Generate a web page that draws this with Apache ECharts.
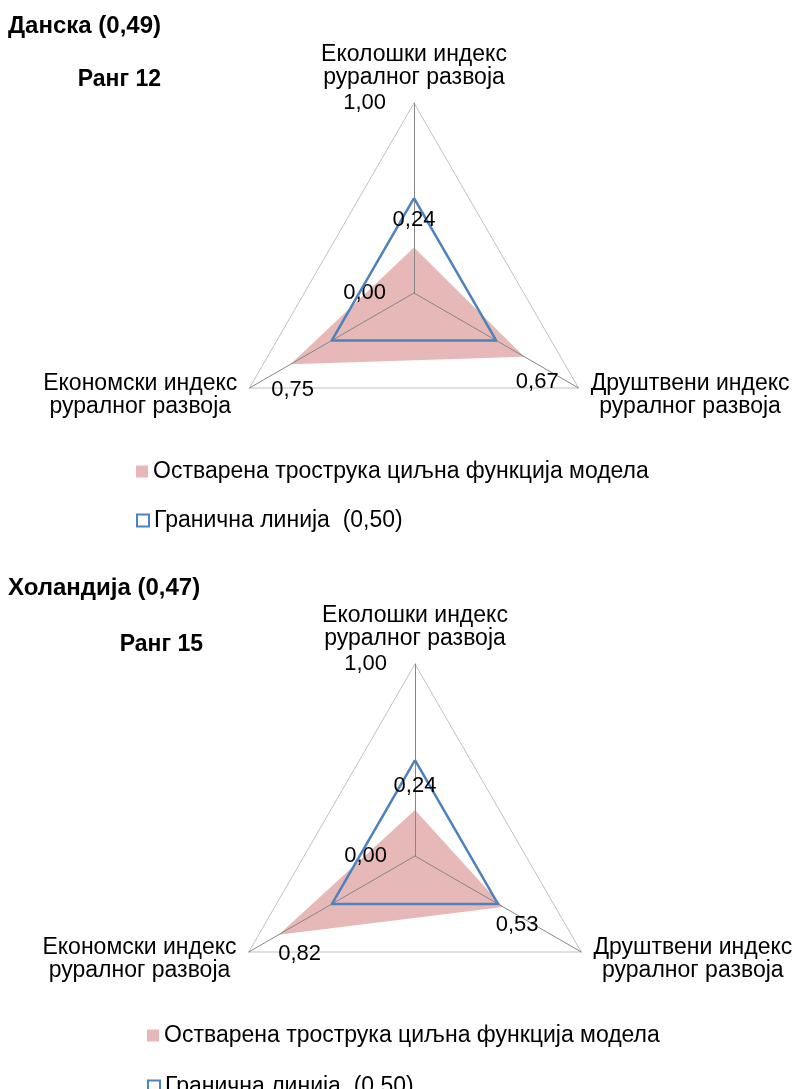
<!DOCTYPE html>
<html><head><meta charset="utf-8">
<script src="https://cdn.jsdelivr.net/npm/echarts@6/dist/echarts.min.js"></script>
<style>html,body{margin:0;padding:0;background:#fff}#c{width:800px;height:1089px}</style>
</head><body><div id="c"></div>
<script>
// Indicator order: top, left, right (ECharts places indicators counter-clockwise)
const indicatorNames = ['Еколошки индекс\nруралног развоја', 'Економски индекс\nруралног развоја', 'Друштвени индекс\nруралног развоја'];
const countryTitles = ['Данска (0,49)', 'Холандија (0,47)'];
const rankTitles = ['Ранг 12', 'Ранг 15'];
const seriesNames = ['Остварена трострука циљна функција модела', 'Гранична линија  (0,50)'];
const denmarkValues = [0.24, 0.75, 0.67];
const netherlandsValues = [0.24, 0.82, 0.53];
const boundaryValues = [0.50, 0.50, 0.50];
const axisMin = 0, axisMax = 1;

const FONT = 'Liberation Sans, Arial, sans-serif';
const RED = '#E6B9B8', BLUE = '#4F81BD';
const FS = 22, FS_TEXT = 23;
const fmt = v => Number(v).toFixed(2).replace('.', ',');

function makeRadar(center, radius) {
  return {
    z: 3,
    center: center, radius: radius, startAngle: 90, shape: 'polygon', splitNumber: 1,
    indicator: indicatorNames.map((n, i) => i === 0
      ? { name: n, min: axisMin, max: axisMax, axisLabel: { show: true } }
      : { name: n, min: axisMin, max: axisMax }),
    nameGap: 14,
    axisName: {
      formatter: v => v.split('\n').map(s => '{a|' + s + '}').join('\n'),
      rich: { a: { align: 'center', fontSize: FS_TEXT, lineHeight: 23, fontFamily: FONT, color: '#000' } }
    },
    axisLine: { lineStyle: { color: '#868686', width: 1 } },
    splitLine: { lineStyle: { color: '#c0c0c0', width: 1 } },
    splitArea: { show: false },
    axisTick: { show: false },
    axisLabel: { show: false, formatter: v => fmt(v), margin: 28, fontSize: FS, fontFamily: FONT, color: '#000' }
  };
}

function makeSeries(radarIndex, values, labelOffsets) {
  return [
    { type: 'radar', radarIndex: radarIndex, name: seriesNames[0], symbol: 'none', silent: true, z: 1,
      data: [{ value: values }], itemStyle: { color: RED },
      areaStyle: { color: RED, opacity: 1 }, lineStyle: { width: 0, opacity: 0 } },
    { type: 'radar', radarIndex: radarIndex, name: seriesNames[1], symbol: 'none', silent: true, z: 5,
      data: [{ value: boundaryValues }], itemStyle: { color: BLUE },
      lineStyle: { color: BLUE, width: 2.5 } },
    { type: 'radar', radarIndex: radarIndex, name: 'labels' + radarIndex, symbol: 'circle', symbolSize: 2, silent: true, z: 6,
      itemStyle: { color: 'rgba(0,0,0,0)' }, lineStyle: { width: 0, opacity: 0 },
      data: labelOffsets.map((off, i) => ({
        value: values,
        label: { show: true, position: 'inside', offset: off, fontSize: FS, fontFamily: FONT, color: '#000',
          formatter: p => p.dimensionIndex === i ? fmt(p.value) : '' }
      })) }
  ];
}

const legendItems = [
  { name: seriesNames[0], icon: 'rect', itemStyle: { color: RED, borderWidth: 0 } },
  { name: seriesNames[1], icon: 'rect', itemStyle: { color: '#fff', borderColor: BLUE, borderWidth: 2 } }
];
function makeLegend(left, top, idx) {
  return {
    left: left, top: top, padding: 0, orient: 'vertical', itemWidth: 12, itemHeight: 12, selectedMode: false,
    textStyle: { fontSize: FS_TEXT, fontFamily: FONT, color: '#000' },
    data: [legendItems[idx]]
  };
}

const titleStyle = { fontSize: 24, fontWeight: 'bold', fontFamily: FONT, color: '#000' };
const rankStyle = { fontSize: 23, fontWeight: 'bold', fontFamily: FONT, color: '#000' };

const option = {
  animation: false,
  textStyle: { fontFamily: FONT },
  title: [
    { text: countryTitles[0], left: 8, top: 14, padding: 0, textStyle: titleStyle },
    { text: rankTitles[0], right: 639, top: 68, padding: 0, textStyle: rankStyle },
    { text: countryTitles[1], left: 8, top: 576, padding: 0, textStyle: titleStyle },
    { text: rankTitles[1], right: 597, top: 633, padding: 0, textStyle: rankStyle }
  ],
  legend: [makeLegend(136, 460, 0), makeLegend(136, 509, 1), makeLegend(147, 1024, 0), makeLegend(147, 1075, 1)],
  radar: [makeRadar([414, 293], 190), makeRadar([415, 856], 192)],
  series: [].concat(
    makeSeries(0, denmarkValues, [[0, -27], [2, 26], [13, 25]]),
    makeSeries(1, netherlandsValues, [[0, -24], [21, 19], [14, 18]])
  )
};

const chart = echarts.init(document.getElementById('c'), null, { renderer: 'canvas' });
chart.setOption(option);
</script>
</body></html>
